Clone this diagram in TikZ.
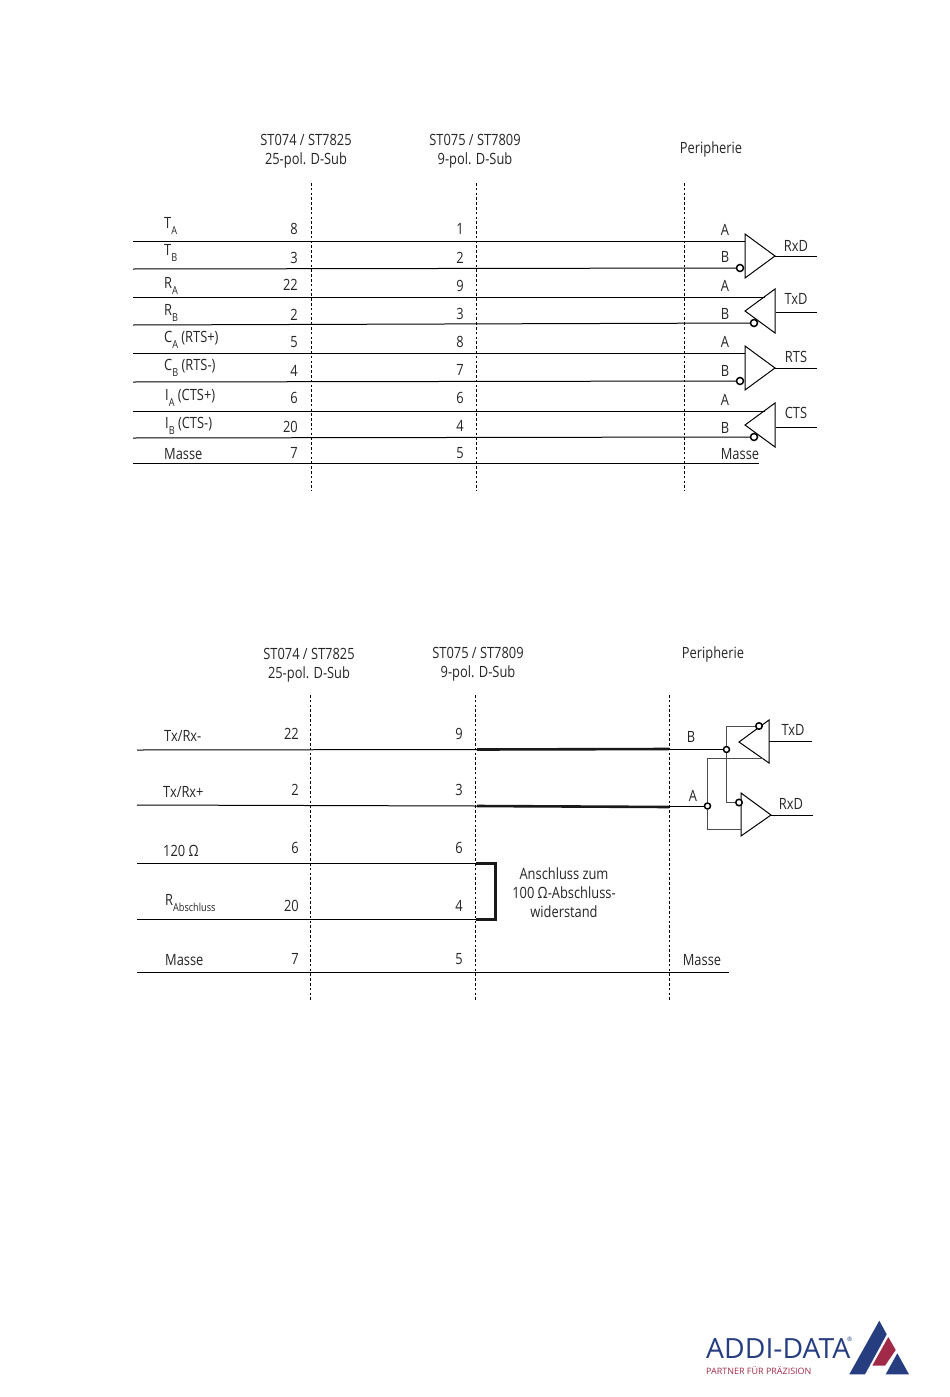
\documentclass[tikz,border=0pt]{standalone}
\usepackage{fontspec}
\setmainfont[FakeStretch=0.83]{Open Sans}
\newfontfamily\logofont[FakeStretch=1.02]{Open Sans}
\newcommand\lowsub[1]{\raisebox{-0.8ex}{\fontsize{11}{11}\selectfont #1}}
\tikzset{x=1pt,y=-1pt,
  txt/.style={inner sep=0pt,font=\fontsize{15.5}{19}\selectfont,text=black!85},
  lbl/.style={txt,anchor=base west},
  num/.style={txt,anchor=center},
  wire/.style={draw=black,line width=1pt},
  thick wire/.style={draw=black!90,line width=2.6pt},
  guide/.style={draw=black,line width=0.9pt,dash pattern=on 2.6pt off 2.2pt},
  gate/.style={draw=black,line width=1pt,line join=miter},
  bubble/.style={circle,draw=black,fill=white,line width=1.5pt,minimum size=7pt,inner sep=0pt},
}
\definecolor{logoblue}{RGB}{38,62,128}
\definecolor{logored}{RGB}{160,42,72}
\begin{document}
\begin{tikzpicture}
\useasboundingbox (0,0) rectangle (950,1397);
\fill[white] (0,0) rectangle (950,1397);
%% ---------- upper diagram
\node[txt,align=center] (h1) at (306,151.5) {ST074 / ST7825\\25-pol. D-Sub};
\node[txt,align=center] (h2) at (475,151.5) {ST075 / ST7809\\9-pol. D-Sub};
\node[txt] (h3) at (711,149) {Peripherie};
\foreach \n/\x in {a/311,b/476,c/684}{
  \coordinate (g\n t) at (\x,183); \coordinate (g\n b) at (\x,491);
  \draw[guide] (g\n t) -- (g\n b);
}
\node[lbl] (l1) at (164,228) {T\lowsub{A}};
\node[lbl] (l2) at (164,255) {T\lowsub{B}};
\node[lbl] (l3) at (164,288) {R\lowsub{A}};
\node[lbl] (l4) at (164,315) {R\lowsub{B}};
\node[lbl] (l5) at (164,342) {C\lowsub{A} (RTS+)};
\node[lbl] (l6) at (164,370) {C\lowsub{B} (RTS-)};
\node[lbl] (l7) at (165,400) {I\lowsub{A} (CTS+)};
\node[lbl] (l8) at (165,428) {I\lowsub{B} (CTS-)};
\node[lbl] (l9) at (164,459) {Masse};
\foreach \n/\t/\y in {1/8/229,2/3/258,3/22/285,4/2/315,5/5/342,6/4/371,7/6/398,8/20/427,9/7/453}{
  \node[num,anchor=east] (na\n) at (298,\y) {\t};
}
\foreach \n/\t/\y in {1/1/229,2/2/258,3/9/286,4/3/314,5/8/342,6/7/370,7/6/398,8/4/426,9/5/453}{
  \node[num] (nb\n) at (460,\y) {\t};
}
\foreach \n/\t/\y in {1/A/230,2/B/257,3/A/286,4/B/314,5/A/342,6/B/371,7/A/400,8/B/428}{
  \node[num] (p\n) at (725,\y) {\t};
}
\node[num] (pm) at (740,454) {Masse};
% gates
\coordinate (g1a) at (745,234); \coordinate (g1b) at (745,278); \coordinate (g1c) at (775,256);
\coordinate (g2a) at (775,289); \coordinate (g2b) at (775,333); \coordinate (g2c) at (745,311);
\coordinate (g3a) at (745,346); \coordinate (g3b) at (745,390); \coordinate (g3c) at (775,368);
\coordinate (g4a) at (775,403); \coordinate (g4b) at (775,447); \coordinate (g4c) at (745,425);
\foreach \g in {1,2,3,4}{\draw[gate] (g\g a) -- (g\g b) -- (g\g c) -- cycle;}
\foreach \n/\y in {1/241,3/297,5/353,7/411,9/463}{\coordinate (w\n) at (133,\y);}
\foreach \n/\y in {2/269,4/325,6/382,8/438}{\coordinate (w\n) at (133,\y);}
\draw[wire] (w1) -- (745,241);
\draw[wire] (w3) -- (765,297);
\draw[wire] (w5) -- (745,353);
\draw[wire] (w7) -- (765,411);
\draw[wire] (w9) -- (759,463);
\node[bubble] (c1) at (740,268) {};
\node[bubble] (c2) at (754,323) {};
\node[bubble] (c3) at (740,381) {};
\node[bubble] (c4) at (754,437) {};
\draw[wire] (w2) -- (c1);
\draw[wire] (w4) -- (c2);
\draw[wire] (w6) -- (c3);
\draw[wire] (w8) -- (c4);
\coordinate (o1) at (817,256); \coordinate (o2) at (817,312); \coordinate (o3) at (817,368); \coordinate (o4) at (817,427);
\draw[wire] (g1c) -- (o1);
\draw[wire] (776,312) -- (o2);
\draw[wire] (g3c) -- (o3);
\draw[wire] (776,427) -- (o4);
\node[num] (t1) at (796,246) {RxD};
\node[num] (t2) at (796,299) {TxD};
\node[num] (t3) at (796,357) {RTS};
\node[num] (t4) at (796,413) {CTS};
%% ---------- lower diagram
\node[txt,align=center] (k1) at (309,665) {ST074 / ST7825\\25-pol. D-Sub};
\node[txt,align=center] (k2) at (478,664) {ST075 / ST7809\\9-pol. D-Sub};
\node[txt] (k3) at (713,654) {Peripherie};
\foreach \n/\x in {d/310,e/475,f/669}{
  \coordinate (g\n t) at (\x,695); \coordinate (g\n b) at (\x,1001);
  \draw[guide] (g\n t) -- (g\n b);
}
\node[lbl] (m1) at (164,741) {Tx/Rx-};
\node[lbl] (m2) at (163,797) {Tx/Rx+};
\node[lbl] (m3) at (163,856) {120 Ω};
\node[lbl] (m4) at (165,905) {R\lowsub{Abschluss}};
\node[lbl] (m5) at (165,965) {Masse};
\foreach \n/\t/\y in {1/22/734,2/2/790,3/6/848,4/20/906,5/7/959}{
  \node[num,anchor=east] (qa\n) at (299,\y) {\t};
}
\foreach \n/\t/\y in {1/9/734,2/3/790,3/6/848,4/4/906,5/5/959}{
  \node[num] (qb\n) at (459,\y) {\t};
}
\node[num] (qB) at (691,737) {B};
\node[num] (qA) at (693,796) {A};
\node[num] (qM) at (702,960) {Masse};
\node[txt,align=center] (ans) at (564,892.5) {Anschluss zum\\100 Ω-Abschluss-\\widerstand};
% lines
\coordinate (r1) at (137,750); \coordinate (r2) at (137,805); \coordinate (r3) at (137,863);
\coordinate (r4) at (137,919); \coordinate (r5) at (137,972.5);
\coordinate (s1) at (477,749.5); \coordinate (s2) at (477,806);
\coordinate (u1) at (669,749); \coordinate (u2) at (669,807);
\coordinate (v3) at (476,863); \coordinate (v4) at (476,919);
\coordinate (br1) at (495,863); \coordinate (br2) at (495,919);
\node[bubble,minimum size=6pt] (nB) at (726.5,749.5) {};
\node[bubble,minimum size=6pt] (nA) at (707.5,806) {};
\draw[wire] (r1) -- (s1);
\draw[wire] (r2) -- (s2);
\draw[thick wire] (s1) -- (u1);
\draw[thick wire] (s2) -- (u2);
\draw[wire] (u1 |- nB) -- (nB);
\draw[wire] (u2 |- nA) -- (nA);
\draw[wire] (r3) -- (v3);
\draw[wire] (r4) -- (v4);
\draw[thick wire,line width=3pt,line join=miter] (v3) -- (br1) -- (br2) -- (v4);
\draw[wire] (r5) -- (729,972.5);
% gates lower
\coordinate (h1a) at (769,720); \coordinate (h1b) at (769,763); \coordinate (h1c) at (739,742);
\coordinate (h2a) at (741,793); \coordinate (h2b) at (741,836); \coordinate (h2c) at (771,815);
\draw[gate] (h1a) -- (h1b) -- (h1c) -- cycle;
\draw[gate] (h2a) -- (h2b) -- (h2c) -- cycle;
\node[bubble,minimum size=6.5pt] (cT) at (759,726) {};
\node[bubble,minimum size=6.5pt] (cR) at (739,802.5) {};
\coordinate (tA) at (763,758); \coordinate (rA) at (741,829.5);
\draw[wire,draw=black!70] (nB) |- (cT);
\draw[wire,draw=black!70] (nB) |- (cR);
\draw[wire,draw=black!70] (nA) |- (tA);
\draw[wire,draw=black!70] (nA) |- (rA);
\coordinate (oT) at (812,741.5); \coordinate (oR) at (813,815);
\draw[wire] (769,741.5) -- (oT);
\draw[wire] (h2c) -- (oR);
\node[num] (tT) at (793,730) {TxD};
\node[num] (tR) at (791,804) {RxD};
%% ---------- logo
\fill[logoblue] (879.3,1320.7) -- (849.3,1374.3) -- (865,1374.3) -- (886.7,1334.3) -- cycle;
\fill[logored] (888.3,1337) -- (895.7,1350) -- (885,1365.7) -- (872.3,1365.7) -- cycle;
\fill[logoblue] (897.3,1353.3) -- (909,1374.3) -- (885.7,1374.3) -- cycle;
\node[inner sep=0pt,anchor=base west,text=logoblue,font=\logofont\fontsize{27.8}{30}\selectfont] (logo) at (706,1358) {ADDI-DATA};
\node[inner sep=0pt,anchor=base west,text=logoblue,font=\logofont\fontsize{6}{6}\selectfont] (logoR) at (847,1341) {®};
\node[inner sep=0pt,anchor=base west,text=logored,font=\logofont\fontsize{8.8}{11}\selectfont] (logo2) at (706,1374) {PARTNER FÜR PRÄZISION};
\end{tikzpicture}
\end{document}
